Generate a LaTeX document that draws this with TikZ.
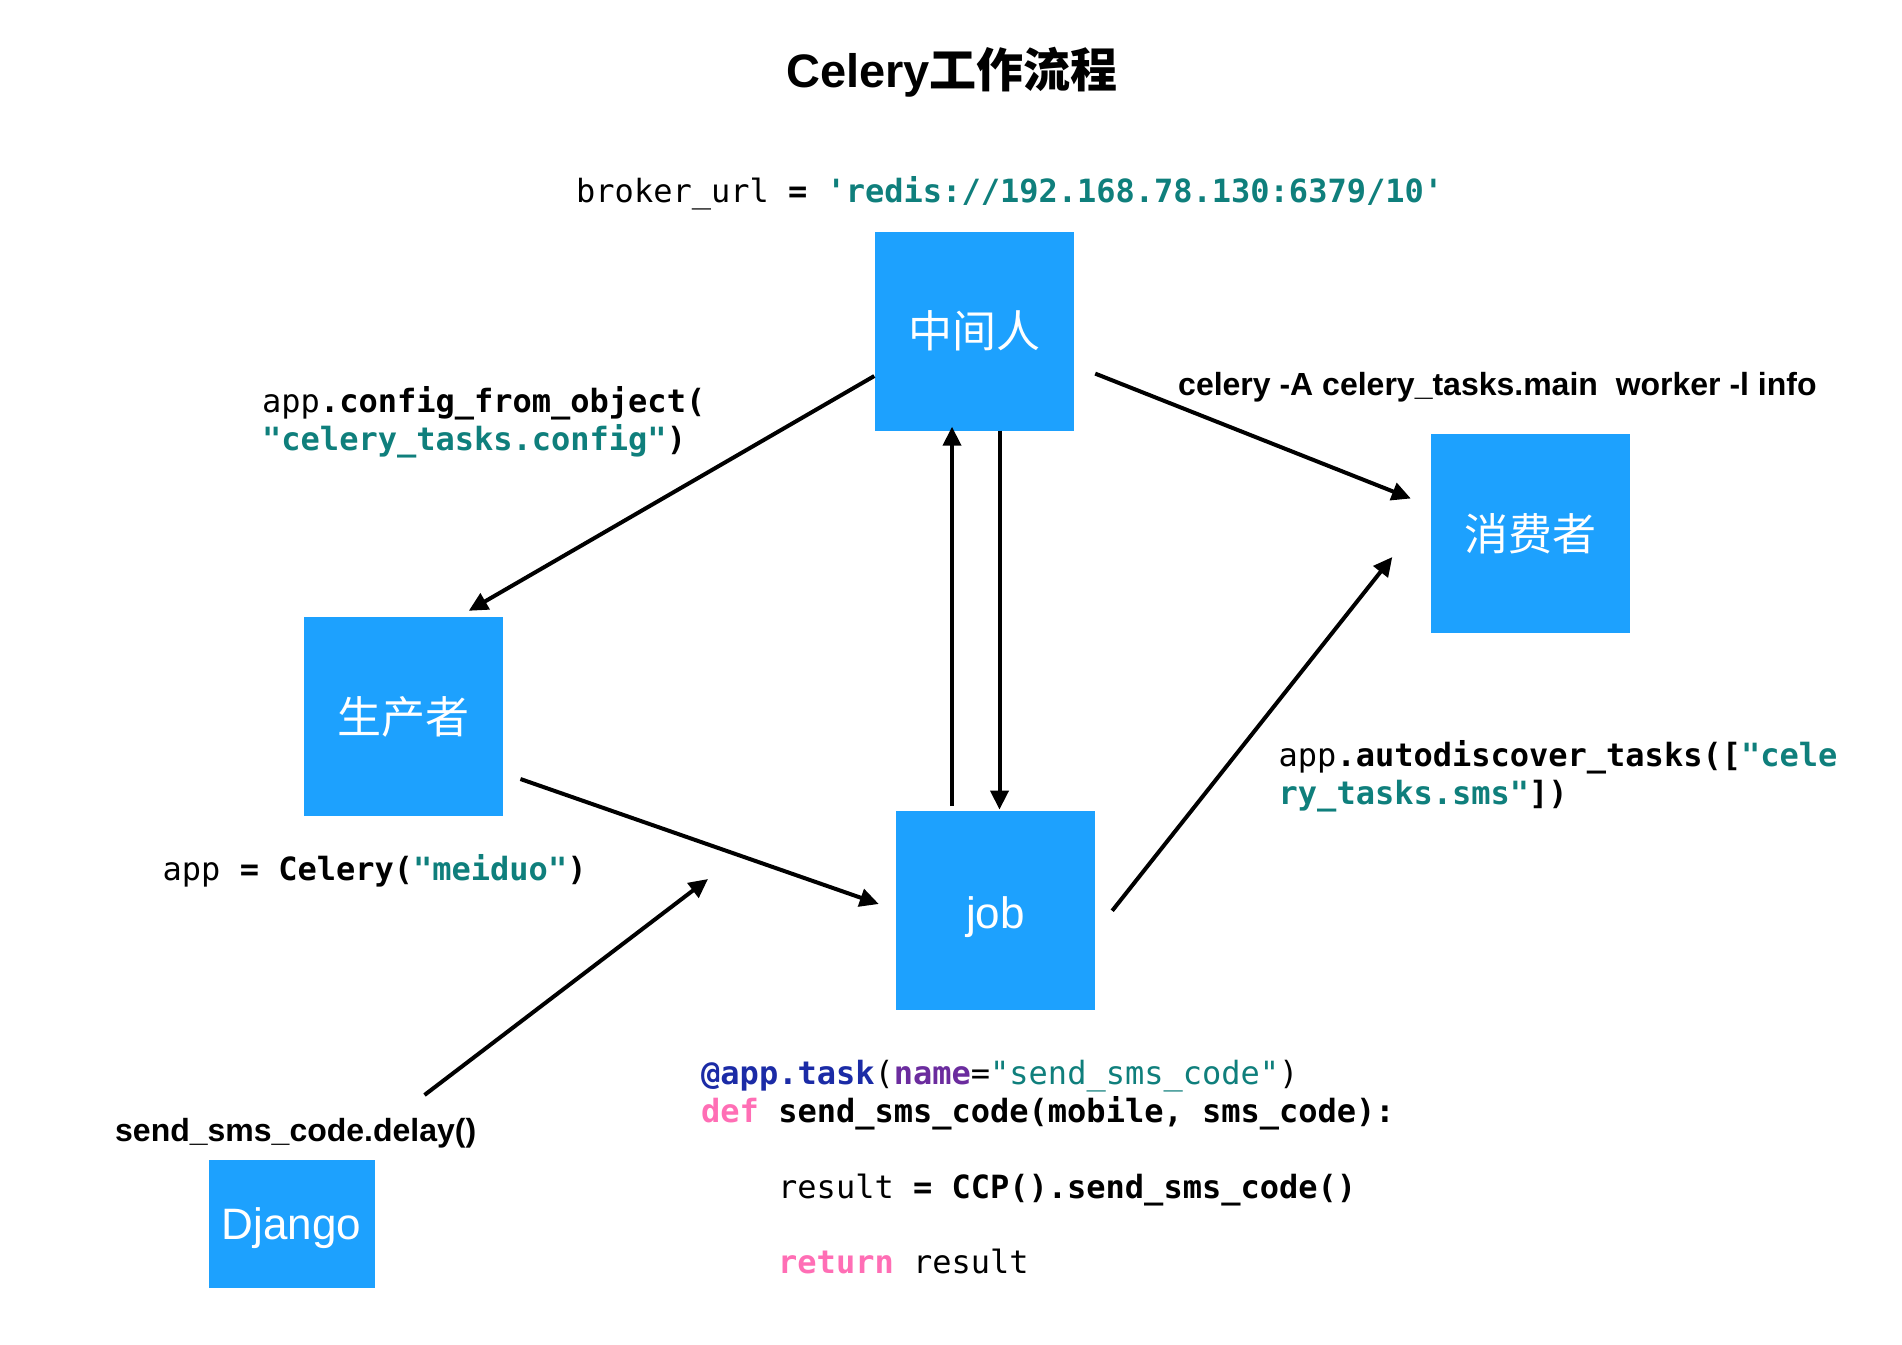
\documentclass[tikz,border=0pt]{standalone}
\usepackage{fontspec}
\setmainfont{Liberation Sans}
\setmonofont{DejaVu Sans Mono}
\newfontfamily\cjk{Noto Sans CJK SC}
\usetikzlibrary{arrows.meta}
\definecolor{boxblue}{HTML}{1DA1FE}
\definecolor{strteal}{HTML}{0F7F7C}
\definecolor{kwblue}{HTML}{1B2BA6}
\definecolor{kwpurple}{HTML}{6B2C9E}
\definecolor{kwpink}{HTML}{FF6EB5}
\begin{document}
\begin{tikzpicture}[x=1pt,y=-1pt,
  box/.style={fill=boxblue, inner sep=0pt, text=white, font=\fontsize{44}{50}\selectfont},
  arr/.style={line width=4pt, -{Triangle[length=19pt,width=18pt]}},
  code/.style={anchor=base west, inner sep=0pt, font=\ttfamily\fontsize{32}{38}\selectfont},
  lab/.style={anchor=base west, inner sep=0pt, font=\bfseries\fontsize{32}{38}\selectfont}]
\useasboundingbox[fill=white] (0,0) rectangle (1902,1344);

% title
\node[anchor=base, inner sep=0pt, font=\bfseries\fontsize{47}{54}\selectfont] (title) at (952,87) {Celery{\cjk\bfseries 工作流程}};

% boxes
\node[box, minimum width=199pt, minimum height=199pt] (mid) at (974,331) {\cjk 中间人};
\node[box, minimum width=199pt, minimum height=199pt] (cons) at (1530.5,533.5) {\cjk 消费者};
\node[box, minimum width=199pt, minimum height=199pt] (prod) at (403.75,716.5) {\cjk 生产者};
\node[box, minimum width=199pt, minimum height=199pt, text height=34.5pt, text depth=0pt] (job) at (995.5,910.75) {job};
\node[box, minimum width=166pt, minimum height=128pt, text height=30.5pt, text depth=0pt] (django) at (291.7,1223.8) {Django};

% labels
\node[code] (broker) at (576,202.5) {broker\_url {\bfseries =} {\color{strteal}\bfseries 'redis://192.168.78.130:6379/10'}};
\node[code] (cfg1) at (262,412.5) {app{\bfseries .config\_from\_object(}};
\node[code] (cfg2) at (262,450) {{\color{strteal}\bfseries "celery\_tasks.config"}{\bfseries )}};
\node[lab] (worker) at (1178,395) {celery -A celery\_tasks.main\ \ worker -l info};
\node[code] (auto1) at (1278.5,766.5) {app{\bfseries .autodiscover\_tasks([}{\color{strteal}\bfseries "cele}};
\node[code] (auto2) at (1278.5,804.5) {{\color{strteal}\bfseries ry\_tasks.sms"}{\bfseries ])}};
\node[code] (appdef) at (162.5,880.5) {app {\bfseries = Celery(}{\color{strteal}\bfseries "meiduo"}{\bfseries )}};
\node[lab] (delay) at (115,1141) {send\_sms\_code.delay()};

% code block
\node[code] (c1) at (701,1084.5) {{\color{kwblue}\bfseries @app.task}({\color{kwpurple}\bfseries name}={\color{strteal}"send\_sms\_code"})};
\node[code] (c2) at (701,1122.5) {{\color{kwpink}\bfseries def} {\bfseries send\_sms\_code(mobile, sms\_code):}};
\node[code] (c3) at (778,1198.5) {result {\bfseries = CCP().send\_sms\_code()}};
\node[code] (c4) at (778,1273.5) {{\color{kwpink}\bfseries return} result};

% connectors
\coordinate (djtarget) at (708,879);
\draw[arr] ([yshift=-45pt]mid.west) -- ([xshift=65pt,yshift=6pt]prod.north);
\draw[arr] ([xshift=21.5pt,yshift=-42.6pt]mid.east) -- ([xshift=-20pt,yshift=35pt]cons.west);
\draw[arr] ([xshift=17pt,yshift=-62.5pt]prod.east) -- ([xshift=-17pt,yshift=6.75pt]job.west);
\draw[arr] ([xshift=17pt]job.east) -- ([xshift=-38.5pt,yshift=-23.5pt]cons.west);
\draw[arr] ([xshift=132.8pt,yshift=64.6pt]django.north) -- (djtarget);
\draw[arr] ([xshift=-43.5pt,yshift=5pt]job.north) -- ([xshift=-22pt,yshift=4pt]mid.south);
\draw[arr] ([xshift=25.5pt]mid.south) -- ([xshift=4pt,yshift=1.5pt]job.north);
\end{tikzpicture}
\end{document}
